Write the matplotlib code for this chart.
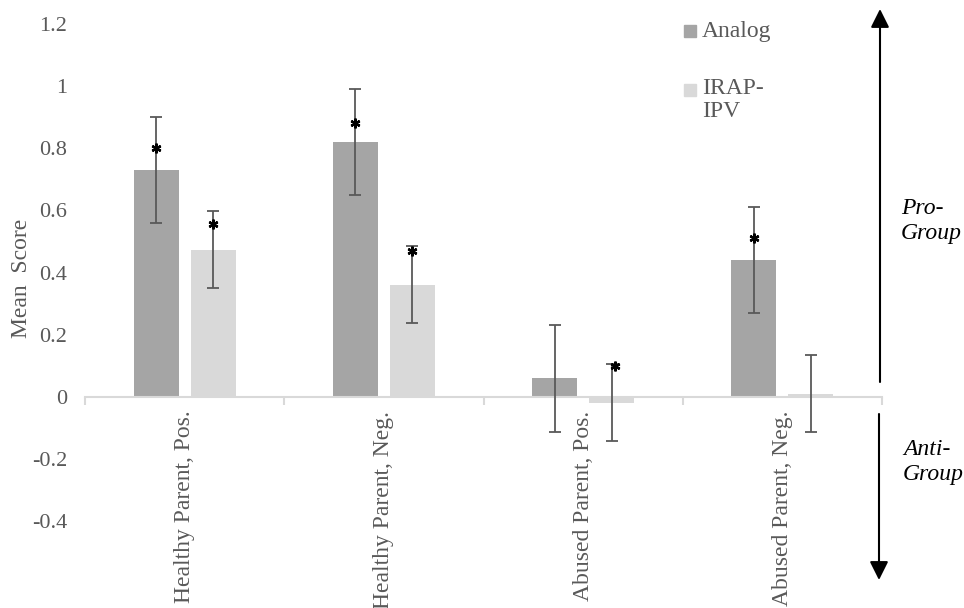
import matplotlib
matplotlib.use("Agg")
import matplotlib.pyplot as plt
from matplotlib.patches import Rectangle, FancyArrowPatch
import numpy as np

categories = ["Healthy Parent, Pos.", "Healthy Parent, Neg.", "Abused Parent, Pos.", "Abused Parent, Neg."]
series_names = ["Analog", "IRAP-\nIPV"]
analog_vals = [0.73, 0.82, 0.06, 0.44]
analog_err = [0.17, 0.17, 0.172, 0.17]
irap_vals = [0.473, 0.36, -0.02, 0.01]
irap_err = [0.124, 0.124, 0.124, 0.124]
analog_star = [0.80, 0.88, None, 0.51]
irap_star = [0.557, 0.47, 0.10, None]
yticks = [-0.4, -0.2, 0, 0.2, 0.4, 0.6, 0.8, 1, 1.2]
ytick_labels = ["-0.4", "-0.2", "0", "0.2", "0.4", "0.6", "0.8", "1", "1.2"]

C_ANALOG = "#A5A5A5"
C_IRAP = "#D9D9D9"
C_TEXT = "#595959"
C_ERR = "#595959"

plt.rcParams["font.family"] = ["Liberation Serif", "DejaVu Serif"]
FS = 16

W, H = 964, 608
fig = plt.figure(figsize=(W / 100, H / 100), dpi=100)
ax = fig.add_axes([85 / W, 1 - 521 / H, (882 - 85) / W, (521 - 24) / H])

x = np.arange(len(categories))
bw = 0.226
off = 0.143

ax.bar(x - off, analog_vals, bw, color=C_ANALOG, zorder=2)
ax.bar(x + off, irap_vals, bw, color=C_IRAP, zorder=2)
ax.errorbar(x - off, analog_vals, yerr=analog_err, fmt="none", ecolor=C_ERR,
            elinewidth=1.3, capsize=4.5, capthick=1.3, zorder=3)
ax.errorbar(x + off, irap_vals, yerr=irap_err, fmt="none", ecolor=C_ERR,
            elinewidth=1.3, capsize=4.5, capthick=1.3, zorder=3)

for xi, s in zip(x - off, analog_star):
    if s is not None:
        ax.plot(xi, s, marker=(6, 2, 0), color="black", ms=7, mew=1.7, zorder=4)
for xi, s in zip(x + off, irap_star):
    if s is not None:
        ax.plot(xi + 0.015 if s < 0.2 else xi, s, marker=(6, 2, 0), color="black", ms=7, mew=1.7, zorder=4)

ax.set_xlim(-0.5, 3.5)
ax.set_ylim(-0.4, 1.2)
ax.set_yticks(yticks)
ax.set_yticklabels(ytick_labels)
ax.tick_params(axis="y", length=0, pad=13, labelsize=FS, labelcolor=C_TEXT)

for sp in ["left", "right", "top"]:
    ax.spines[sp].set_visible(False)
ax.spines["bottom"].set_position(("data", 0))
ax.spines["bottom"].set_color(C_IRAP)
ax.spines["bottom"].set_linewidth(1.5)

ax.set_xticks(x)
ax.set_xticklabels(categories, rotation=90, va="top", ha="center")
ax.set_xticks(np.arange(-0.5, 4.0, 1.0), minor=True)
ax.tick_params(axis="x", which="major", length=0, pad=10, labelsize=FS + 1, labelcolor=C_TEXT)
ax.tick_params(axis="x", which="minor", length=6, width=1.5, color=C_IRAP, direction="out")

fig.text(22 / W, 1 - 278 / H, "Mean  Score", rotation=90, ha="center", va="center",
         fontsize=FS + 1, color=C_TEXT)

# legend
sq = 12
fig.patches.append(Rectangle((684 / W, 1 - 37 / H), sq / W, sq / H, transform=fig.transFigure,
                             color=C_ANALOG, figure=fig))
fig.patches.append(Rectangle((684 / W, 1 - 96 / H), sq / W, sq / H, transform=fig.transFigure,
                             color=C_IRAP, figure=fig))
fig.text(702 / W, 1 - 31 / H, series_names[0], ha="left", va="center", fontsize=FS + 1, color=C_TEXT)
fig.text(702 / W, 1 - 78 / H, series_names[1], ha="left", va="top", fontsize=FS + 1, color=C_TEXT,
         linespacing=1.15)

# arrows
arrow_kw = dict(arrowstyle="-|>,head_length=0.8,head_width=0.4", mutation_scale=14,
                color="black", lw=1.5, shrinkA=0, shrinkB=0, transform=fig.transFigure)
fig.add_artist(FancyArrowPatch((880 / W, 1 - 382 / H), (880 / W, 1 - 9 / H), **arrow_kw))
fig.add_artist(FancyArrowPatch((879 / W, 1 - 414 / H), (879 / W, 1 - 580 / H), **arrow_kw))

fig.text(901 / W, 1 - 221 / H, "Pro-\nGroup", ha="left", va="center", fontsize=FS + 1,
         style="italic", color="black", linespacing=1.25)
fig.text(903 / W, 1 - 462 / H, "Anti-\nGroup", ha="left", va="center", fontsize=FS + 1,
         style="italic", color="black", linespacing=1.25)

fig.savefig("out.png", dpi=100)
